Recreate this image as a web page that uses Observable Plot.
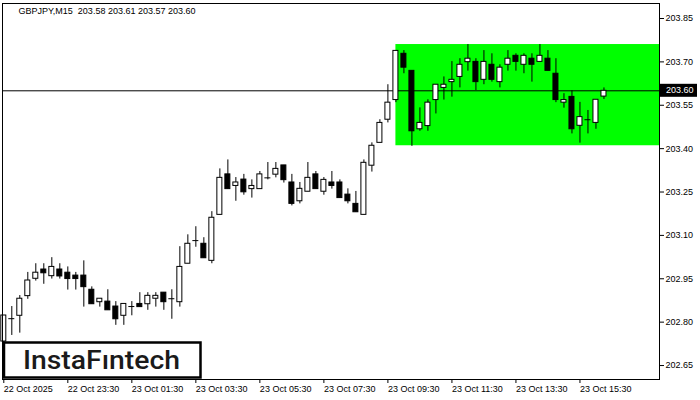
<!DOCTYPE html>
<html>
<head>
<meta charset="utf-8">
<script src="https://cdn.jsdelivr.net/npm/d3@7"></script>
<script src="https://cdn.jsdelivr.net/npm/@observablehq/plot@0.6"></script>
<style>
  html, body { margin: 0; padding: 0; background: #fff; }
  #chart { width: 700px; height: 400px; }
</style>
</head>
<body>
<div id="chart"></div>
<script>
const symbol = "GBPJPY,M15";
const open = [202.733,202.812,202.822,202.890,202.950,202.982,202.959,202.982,202.971,202.961,
  202.961,202.912,202.869,202.871,202.854,202.822,202.854,202.863,202.862,202.881,
  202.902,202.881,202.869,203.002,203.082,203.071,203.012,203.171,203.311,203.271,
  203.293,203.260,203.260,203.299,203.310,203.342,203.283,203.218,203.251,203.311,
  203.251,203.283,203.283,203.241,203.209,203.171,203.341,203.420,203.500,203.568,
  203.728,203.669,203.467,203.478,203.568,203.610,203.630,203.648,203.699,203.700,
  203.638,203.690,203.630,203.690,203.721,203.690,203.711,203.700,203.711,203.659,
  203.559,203.579,203.479,203.500,203.489,203.580];
const high = [202.823,202.854,202.892,202.972,203.002,203.002,203.023,203.002,202.991,202.972,
  203.012,202.922,202.881,202.912,202.871,202.863,202.871,202.902,202.902,202.902,
  202.902,202.912,203.061,203.102,203.130,203.092,203.182,203.330,203.361,203.300,
  203.311,203.292,203.321,203.352,203.352,203.342,203.311,203.283,203.352,203.321,
  203.300,203.321,203.292,203.261,203.252,203.361,203.420,203.500,203.621,203.738,
  203.739,203.669,203.541,203.569,203.621,203.648,203.701,203.711,203.760,203.711,
  203.739,203.728,203.690,203.739,203.728,203.728,203.728,203.760,203.739,203.711,
  203.590,203.600,203.560,203.532,203.569,203.610];
const low = [202.720,202.754,202.762,202.879,202.942,202.931,202.949,202.949,202.911,202.911,
  202.852,202.862,202.852,202.841,202.789,202.789,202.822,202.852,202.841,202.852,
  202.841,202.810,202.852,203.002,203.059,203.021,203.002,203.171,203.260,203.218,
  203.239,203.229,203.260,203.292,203.299,203.281,203.202,203.209,203.251,203.260,
  203.239,203.260,203.229,203.209,203.180,203.171,203.319,203.420,203.489,203.559,
  203.659,203.408,203.460,203.460,203.520,203.568,203.578,203.610,203.668,203.601,
  203.621,203.630,203.610,203.668,203.668,203.659,203.630,203.700,203.669,203.559,
  203.540,203.451,203.419,203.451,203.467,203.570];
const close = [202.823,202.812,202.881,202.944,202.971,202.969,202.991,202.958,202.949,202.949,
  202.921,202.862,202.881,202.841,202.810,202.863,202.854,202.852,202.891,202.891,
  202.869,202.881,202.991,203.071,203.082,203.021,203.161,203.299,203.260,203.283,
  203.249,203.271,203.311,203.299,203.330,203.291,203.209,203.261,203.299,203.260,
  203.292,203.271,203.229,203.218,203.180,203.351,203.410,203.489,203.559,203.738,
  203.680,203.460,203.489,203.559,203.621,203.621,203.638,203.690,203.711,203.630,
  203.700,203.638,203.680,203.711,203.700,203.721,203.690,203.721,203.669,203.568,
  203.568,203.467,203.509,203.500,203.569,203.600];

const timeTickBars = [0, 8, 16, 24, 32, 40, 48, 56, 64, 72];
const timeTickLabels = ["22 Oct 2025","22 Oct 23:30","23 Oct 01:30","23 Oct 03:30","23 Oct 05:30",
  "23 Oct 07:30","23 Oct 09:30","23 Oct 11:30","23 Oct 13:30","23 Oct 15:30"];
const priceTicks = [202.65, 202.80, 202.95, 203.10, 203.25, 203.40, 203.55, 203.70, 203.85];

const rangeStartBar = 49;
const rangeHigh = 203.76;
const rangeLow = 203.41;
const logoText = "InstaF\u0131ntech";

const bars = open.map((o, i) => ({i, o, h: high[i], l: low[i], c: close[i]}));
const last = bars[bars.length - 1];
const isDoji = d => Math.abs(d.c - d.o) < 0.0005;
const upBars = bars.filter(d => !isDoji(d) && d.c > d.o);
const downBars = bars.filter(d => !isDoji(d) && d.c < d.o);
const dojis = bars.filter(isDoji);
const half = 0.3125;
const xMax = 81.94;

const title = symbol + "\u00a0\u00a0" + [last.o, last.h, last.l, last.c].map(v => v.toFixed(2)).join(" ");

const plot = Plot.plot({
  width: 700,
  height: 400,
  marginLeft: 2,
  marginRight: 41,
  marginTop: 3,
  marginBottom: 21,
  style: {fontFamily: "'Liberation Sans', Arial, sans-serif", fontSize: "9px", background: "white", color: "black", overflow: "visible"},
  x: {type: "linear", domain: [-0.1625, xMax]},
  y: {domain: [202.6017, 203.9019]},
  marks: [
    Plot.rect([{a: rangeStartBar, lo: rangeLow, hi: rangeHigh}], {x1: "a", x2: () => xMax, y1: "lo", y2: "hi", fill: "#00ff00"}),
    Plot.ruleY([last.c], {stroke: "black", strokeWidth: 1}),
    Plot.ruleX(bars, {x: "i", y1: "l", y2: "h", stroke: "black", strokeWidth: 1}),
    Plot.rect(upBars, {x1: d => d.i - half, x2: d => d.i + half, y1: "o", y2: "c", fill: "white", stroke: "black", strokeWidth: 1}),
    Plot.rect(downBars, {x1: d => d.i - half, x2: d => d.i + half, y1: "o", y2: "c", fill: "black", stroke: "black", strokeWidth: 1}),
    Plot.ruleY(dojis, {y: "c", x1: d => d.i - 0.375, x2: d => d.i + 0.375, stroke: "black", strokeWidth: 1}),
    Plot.axisY({anchor: "right", ticks: priceTicks, tickFormat: d3.format(".2f"), tickSize: 4, tickPadding: 2, fontSize: 9, label: null}),
    Plot.axisX({anchor: "bottom", ticks: timeTickBars, tickFormat: d => timeTickLabels[timeTickBars.indexOf(d)], tickSize: 4, tickPadding: 2, textAnchor: "start", fontSize: 9, label: null}),
    Plot.frame({stroke: "black"}),
    Plot.text([title], {frameAnchor: "top-left", dx: 16, dy: 4, textAnchor: "start", lineAnchor: "top", fontSize: 9, fill: "black"})
  ]
});

// current price label on the right axis, positioned through the plot's y scale
const yScale = plot.scale("y");
const yPrice = yScale.apply(last.c);
const svg = d3.select(plot);
const lbl = svg.append("g").attr("text-anchor", "start");
lbl.append("rect").attr("x", 660).attr("y", yPrice - 6.5).attr("width", 37).attr("height", 13).attr("fill", "black");
lbl.append("text").attr("x", 666).attr("y", yPrice).attr("dy", "0.35em").attr("fill", "white")
  .attr("text-anchor", "start").attr("font-size", 9).text(last.c.toFixed(2));

// logo box
const logo = svg.append("g").attr("text-anchor", "start");
logo.append("rect").attr("x", 4).attr("y", 342.5).attr("width", 196.5).attr("height", 35)
  .attr("fill", "white").attr("stroke", "black").attr("stroke-width", 2.5);
logo.append("text").attr("x", 23).attr("y", 368.5)
  .attr("text-anchor", "start")
  .attr("font-family", "Roboto, 'Noto Sans', sans-serif").attr("font-weight", 500)
  .attr("font-size", 26).attr("fill", "#1a1a1a")
  .attr("textLength", 157).attr("lengthAdjust", "spacingAndGlyphs")
  .text(logoText);

document.getElementById("chart").appendChild(plot);
</script>
</body>
</html>
